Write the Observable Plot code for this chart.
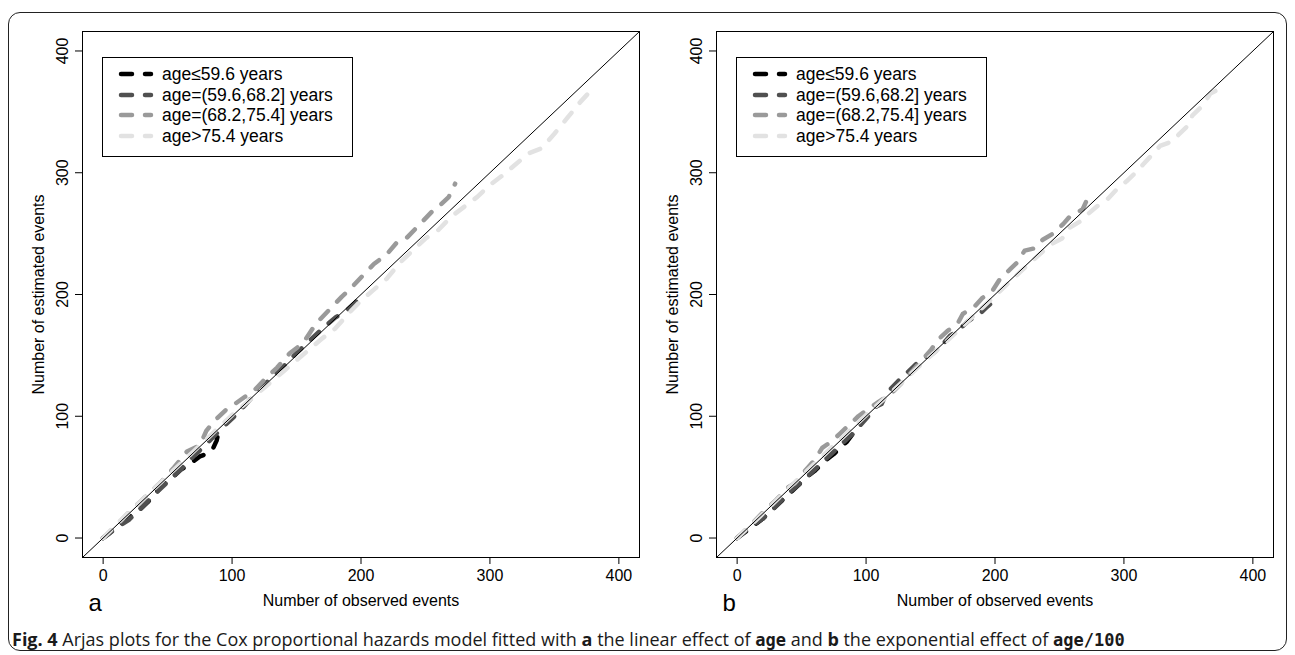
<!DOCTYPE html>
<html><head><meta charset="utf-8">
<script src="https://cdn.jsdelivr.net/npm/d3@7"></script>
<script src="https://cdn.jsdelivr.net/npm/@observablehq/plot@0.6"></script>
<style>
body{margin:0;background:#fff;}
#root{position:relative;width:1295px;height:655px;overflow:hidden;font-family:"Liberation Sans",Arial,sans-serif;}
#frame{position:absolute;left:8px;top:12px;width:1279px;height:639px;border:1.5px solid #222;border-radius:12px;box-sizing:border-box;}
.panel{position:absolute;top:0;width:648px;height:620px;}
.legend{position:absolute;top:57px;width:251px;height:100px;border:1px solid #000;background:#fff;box-sizing:border-box;font-size:17.5px;}
.legend .row{position:absolute;left:0;height:20px;line-height:20px;white-space:nowrap;}
.legend svg{position:absolute;left:15px;top:0;}
.legend span{position:absolute;left:59px;top:0;}
#caption{position:absolute;left:12px;top:627px;font-family:"Open Sans";font-size:18px;color:#1a1a1a;white-space:nowrap;}
#caption b{font-weight:bold;}
#caption code{font-family:"DejaVu Sans Mono","Liberation Mono",monospace;font-weight:bold;font-size:17px;}
</style></head>
<body><div id="root">
<div id="frame"></div>
<div id="pa" class="panel" style="left:0px"></div>
<div id="pb" class="panel" style="left:634px"></div>
<div id="caption"><b>Fig. 4</b> Arjas plots for the Cox proportional hazards model fitted with <b>a</b> the linear effect of <code>age</code> and <b>b</b> the exponential effect of <code>age/100</code></div>
</div>
<script>
// ---- categories / styles ----
const groups = ["age≤59.6 years", "age=(59.6,68.2] years", "age=(68.2,75.4] years", "age>75.4 years"];
const groupColors = ["#000000", "#505050", "#9a9a9a", "#e2e2e2"];
const axisLimits = [-16, 416];
const tickValues = [0, 100, 200, 300, 400];
const xTitle = "Number of observed events";
const yTitle = "Number of estimated events";

// ---- panel a (linear effect of age) ----
const a_black_x = [0, 5, 10, 15, 20, 25, 30, 35, 40, 45, 50, 55, 60, 65, 70, 75, 80, 85, 88, 90];
const a_black_y = [0, 4, 9, 13, 17, 20, 25, 30, 36, 42, 47, 51, 56, 59, 63, 67, 69, 73, 80, 89];
const a_dark_x = [0, 10, 20, 25, 30, 40, 50, 60, 70, 80, 90, 100, 110, 120, 130, 140, 150, 160, 170, 180, 190, 196, 201];
const a_dark_y = [0, 8, 15, 20, 25, 36, 46, 56, 67, 77, 88, 98, 109, 121, 131, 141, 152, 162, 172, 181, 188, 194, 201];
const a_mid_x = [0, 10, 20, 30, 40, 45, 55, 65, 75, 80, 86, 95, 102, 110, 117, 125, 135, 145, 155, 160, 165, 175, 185, 192, 200, 210, 220, 228, 235, 245, 255, 262, 268, 273];
const a_mid_y = [0, 10, 21, 31, 41, 46, 58, 71, 76, 88, 96, 105, 110, 116, 121, 130, 140, 152, 160, 168, 176, 187, 198, 205, 214, 225, 233, 243, 246, 257, 268, 274, 280, 291];
const a_light_x = [0, 10, 20, 30, 40, 50, 60, 70, 80, 90, 100, 110, 120, 130, 140, 150, 160, 170, 180, 190, 200, 210, 220, 230, 240, 250, 260, 270, 280, 290, 300, 310, 320, 330, 340, 350, 360, 370, 377];
const a_light_y = [0, 11, 21, 31, 41, 51, 61, 71, 81, 91, 101, 110, 119, 128, 137, 146, 155, 164, 172, 184, 195, 204, 213, 226, 236, 246, 253, 264, 272, 280, 290, 298, 307, 316, 320, 332, 345, 358, 366];

// ---- panel b (exponential effect of age/100) ----
const b_black_x = [0, 5, 10, 15, 20, 25, 30, 35, 40, 45, 50, 55, 60, 65, 70, 75, 80, 85, 90, 92];
const b_black_y = [0, 4, 8, 12, 16, 21, 26, 31, 36, 41, 46, 51, 55, 60, 65, 69, 74, 79, 86, 92];
const b_dark_x = [0, 10, 20, 30, 40, 50, 60, 70, 80, 90, 100, 108, 112, 116, 125, 136, 143, 151, 157, 165, 173, 179, 188, 194, 202];
const b_dark_y = [0, 9, 16, 26, 37, 46, 56, 66, 76, 86, 98, 108, 110, 119, 129, 140, 147, 151, 156, 166, 172, 178, 184, 190, 197];
const b_mid_x = [0, 10, 20, 30, 40, 45, 50, 55, 60, 66, 74, 80, 88, 94, 103, 110, 119, 130, 140, 150, 156, 163, 171, 175, 184, 190, 198, 204, 212, 217, 223, 231, 237, 245, 253, 258, 268, 271, 274];
const b_mid_y = [0, 10, 21, 31, 42, 45, 52, 58, 64, 74, 80, 86, 94, 100, 107, 112, 118, 130, 142, 154, 163, 170, 176, 184, 190, 197, 203, 213, 221, 226, 236, 238, 245, 250, 258, 264, 270, 277, 281];
const b_light_x = [0, 20, 40, 60, 80, 100, 120, 140, 160, 180, 200, 220, 243, 252, 258, 266, 272, 281, 288, 295, 302, 310, 315, 322, 328, 338, 343, 351, 353, 361, 367, 376];
const b_light_y = [0, 20, 41, 61, 81, 101, 120, 140, 159, 179, 199, 219, 241, 246, 255, 260, 266, 274, 279, 287, 293, 301, 307, 315, 322, 326, 332, 340, 347, 355, 365, 370];

function rows(xs, ys, g) { return xs.map((x, i) => ({x, y: ys[i], group: g})); }

const panelA = [
  ...rows(a_black_x, a_black_y, groups[0]),
  ...rows(a_dark_x, a_dark_y, groups[1]),
  ...rows(a_mid_x, a_mid_y, groups[2]),
  ...rows(a_light_x, a_light_y, groups[3])
];
const panelB = [
  ...rows(b_black_x, b_black_y, groups[0]),
  ...rows(b_dark_x, b_dark_y, groups[1]),
  ...rows(b_mid_x, b_mid_y, groups[2]),
  ...rows(b_light_x, b_light_y, groups[3])
];
const diagonal = axisLimits.map(v => ({x: v, y: v}));

function makePanel(data, tag) {
  return Plot.plot({
    width: 648, height: 620,
    marginLeft: 82, marginRight: 9, marginTop: 31, marginBottom: 63,
    style: {fontSize: "16px", fontFamily: "'Liberation Sans', Arial, sans-serif", color: "#000", background: "transparent", overflow: "visible"},
    x: {domain: axisLimits},
    y: {domain: axisLimits},
    color: {domain: groups, range: groupColors},
    marks: [
      Plot.line(data, {x: "x", y: "y", z: "group", stroke: "group", strokeWidth: 4.5, strokeDasharray: "11,13", strokeLinecap: "round", strokeLinejoin: "round"}),
      Plot.line(diagonal, {x: "x", y: "y", stroke: "#000", strokeWidth: 1}),
      Plot.frame({stroke: "#000", strokeWidth: 1}),
      Plot.axisX({ticks: tickValues, tickSize: 7, tickPadding: 5, label: null, fontSize: 16}),
      Plot.axisY({ticks: tickValues, tickSize: 7, tickFormat: () => "", label: null}),
      Plot.text(tickValues, {y: d => d, text: d => String(d), frameAnchor: "left", dx: -20, rotate: -90, textAnchor: "middle", lineAnchor: "middle", fontSize: 16}),
      Plot.text([yTitle], {text: d => d, frameAnchor: "left", dx: -44, rotate: -90, textAnchor: "middle", lineAnchor: "middle", fontSize: 16}),
      Plot.text([xTitle], {text: d => d, frameAnchor: "bottom", dy: 43, lineAnchor: "middle", fontSize: 16}),
      Plot.text([tag], {text: d => d, frameAnchor: "bottom-left", dx: 6, dy: 46, textAnchor: "start", lineAnchor: "middle", fontSize: 24})
    ]
  });
}

function makeLegend(left) {
  const div = document.createElement("div");
  div.className = "legend";
  div.style.left = left + "px";
  groups.forEach((g, i) => {
    const r = document.createElement("div");
    r.className = "row";
    r.style.top = (6 + i * 20.5) + "px";
    r.innerHTML = `<svg width="40" height="20"><line x1="3" y1="10" x2="33" y2="10" stroke="${groupColors[i]}" stroke-width="4.5" stroke-dasharray="11,13" stroke-linecap="round"/></svg><span>${g.replace("<","&lt;").replace(">","&gt;")}</span>`;
    div.appendChild(r);
  });
  return div;
}

document.getElementById("pa").appendChild(makePanel(panelA, "a"));
document.getElementById("pb").appendChild(makePanel(panelB, "b"));
document.getElementById("root").appendChild(makeLegend(102));
document.getElementById("root").appendChild(makeLegend(736));
</script>
</body></html>
